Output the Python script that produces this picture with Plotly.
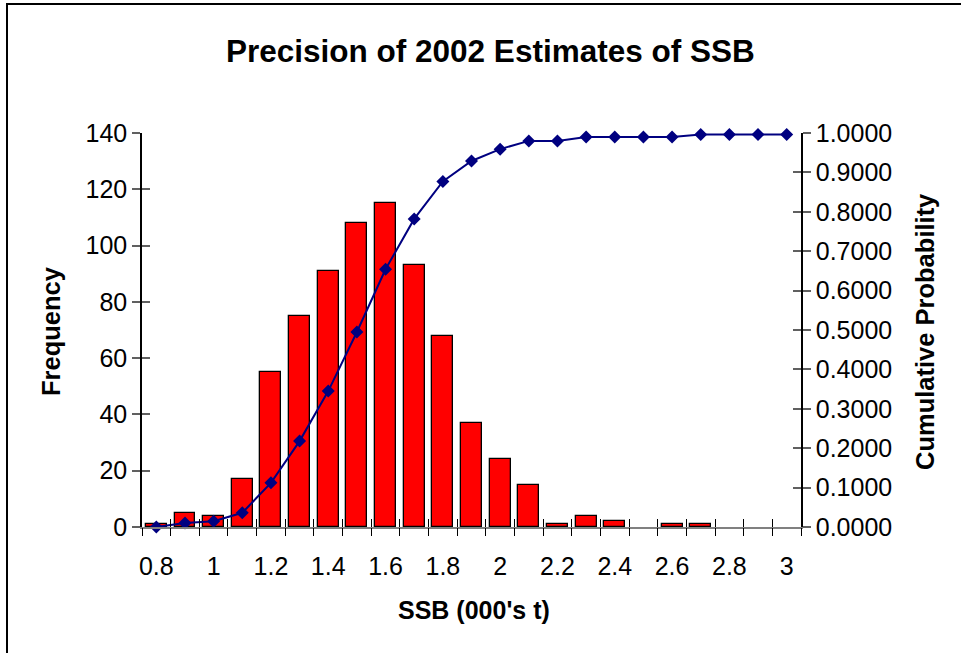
import plotly.graph_objects as go

ssb = [0.8, 0.9, 1.0, 1.1, 1.2, 1.3, 1.4, 1.5, 1.6, 1.7, 1.8, 1.9,
       2.0, 2.1, 2.2, 2.3, 2.4, 2.5, 2.6, 2.7, 2.8, 2.9, 3.0]
frequency = [1, 5, 4, 17, 55, 75, 91, 108, 115, 93, 68, 37,
             24, 15, 1, 4, 2, 0, 1, 1, 0, 0, 0]
cumulative = [0.000, 0.010, 0.0145, 0.036, 0.112, 0.218, 0.345, 0.495, 0.654, 0.782, 0.877, 0.929,
              0.959, 0.980, 0.980, 0.990, 0.990, 0.990, 0.990, 0.996, 0.996, 0.996, 0.996]
x_tick_labels = ["0.8", "1", "1.2", "1.4", "1.6", "1.8", "2", "2.2", "2.4", "2.6", "2.8", "3"]
x_tick_values = [0.8, 1.0, 1.2, 1.4, 1.6, 1.8, 2.0, 2.2, 2.4, 2.6, 2.8, 3.0]

FONT = "Liberation Sans, Arial, sans-serif"
W, H = 961, 653
# target plot area in window pixels (body margin removed by post_script)
PX0, PX1, PY0, PY1 = 142, 801, 133, 527
L = PX0
R = W - PX1
T = PY0
B = H - PY1
XR = [0.75, 3.05]
boundaries = [0.75 + 0.1 * i for i in range(24)]

# empty bins have no visible outline in the original
bar_outline = [1.3 if v > 0 else 0 for v in frequency]

fig = go.Figure()
fig.add_trace(go.Bar(x=ssb, y=frequency, width=0.073,
                     marker=dict(color="#FF0000", line=dict(color="black", width=bar_outline)),
                     xaxis="x", yaxis="y", showlegend=False))
fig.add_trace(go.Scatter(x=ssb, y=cumulative, mode="lines+markers",
                         line=dict(color="#000080", width=2),
                         marker=dict(symbol="diamond", size=10, color="#000080"),
                         xaxis="x", yaxis="y2", showlegend=False, cliponaxis=False))

tickfont = dict(family=FONT, size=25, color="black")
fig.update_layout(
    width=W, height=H,
    margin=dict(l=L, r=R, t=T, b=B),
    paper_bgcolor="white", plot_bgcolor="white",
    font=dict(family=FONT, color="black"),
    bargap=0,
    xaxis=dict(range=XR, tickmode="array", tickvals=x_tick_values, ticktext=x_tick_labels,
               ticks="outside", ticklen=16, tickcolor="rgba(0,0,0,0)",
               showline=True, linecolor="#808080", linewidth=1.5,
               showgrid=False, zeroline=False, tickfont=tickfont),
    xaxis2=dict(range=XR, overlaying="x", tickmode="array", tickvals=boundaries,
                ticks="outside", ticklen=8, tickcolor="black", tickwidth=1.2,
                showticklabels=False, showgrid=False, zeroline=False, showline=False),
    xaxis3=dict(range=XR, overlaying="x", tickmode="array", tickvals=boundaries,
                ticks="inside", ticklen=8, tickcolor="black", tickwidth=1.2,
                showticklabels=False, showgrid=False, zeroline=False, showline=False),
    yaxis=dict(range=[0, 140], dtick=20, tick0=0, ticks="outside", ticklen=8,
               tickcolor="#606060", tickwidth=1.5, showline=True, linecolor="black", linewidth=1.5,
               showgrid=False, zeroline=False, tickfont=tickfont),
    yaxis3=dict(range=[0, 140], dtick=20, tick0=0, overlaying="y", ticks="inside", ticklen=8,
                tickcolor="#606060", tickwidth=1.5, showticklabels=False,
                showgrid=False, zeroline=False, showline=False),
    yaxis2=dict(range=[0, 1], dtick=0.1, tick0=0, overlaying="y", side="right",
                tickformat=".4f", ticks="outside", ticklen=8, tickcolor="#606060", tickwidth=1.5,
                showline=True, linecolor="black", linewidth=1.5,
                showgrid=False, zeroline=False, tickfont=tickfont),
    yaxis4=dict(range=[0, 1], dtick=0.1, tick0=0, overlaying="y", side="right",
                ticks="inside", ticklen=8, tickcolor="#606060", tickwidth=1.5,
                showticklabels=False, showgrid=False, zeroline=False, showline=False),
)
# empty traces that switch on the tick-only axes
fig.add_trace(go.Scatter(x=[None], y=[None], xaxis="x2", yaxis="y3", showlegend=False, hoverinfo="skip"))
fig.add_trace(go.Scatter(x=[None], y=[None], xaxis="x3", yaxis="y4", showlegend=False, hoverinfo="skip"))

pw = PX1 - PX0
ph = PY1 - PY0

def px2x(px):
    return (px - PX0) / pw

def py2y(py):
    return (PY1 - py) / ph

fig.add_annotation(text="<b>Precision of 2002 Estimates of SSB</b>", xref="paper", yref="paper",
                   x=px2x(490), y=py2y(51), showarrow=False, xanchor="center", yanchor="middle",
                   font=dict(family=FONT, size=31.5, color="black"))
fig.add_annotation(text="<b>SSB (000's t)</b>", xref="paper", yref="paper",
                   x=px2x(474), y=py2y(610), showarrow=False, xanchor="center", yanchor="middle",
                   font=dict(family=FONT, size=25, color="black"))
fig.add_annotation(text="<b>Frequency</b>", xref="paper", yref="paper", textangle=-90,
                   x=px2x(51), y=py2y(331), showarrow=False, xanchor="center", yanchor="middle",
                   font=dict(family=FONT, size=25.5, color="black"))
fig.add_annotation(text="<b>Cumulative Probability</b>", xref="paper", yref="paper", textangle=-90,
                   x=px2x(925), y=py2y(332), showarrow=False, xanchor="center", yanchor="middle",
                   font=dict(family=FONT, size=25.5, color="black"))

fig.add_shape(type="rect", xref="paper", yref="paper",
              x0=px2x(7), x1=px2x(1100), y0=py2y(800), y1=py2y(4),
              line=dict(color="black", width=2), fillcolor="rgba(0,0,0,0)", layer="above")

fig.write_html("out.html", config={"displayModeBar": False},
               post_script="document.body.style.margin='0';document.body.style.overflow='hidden';")
